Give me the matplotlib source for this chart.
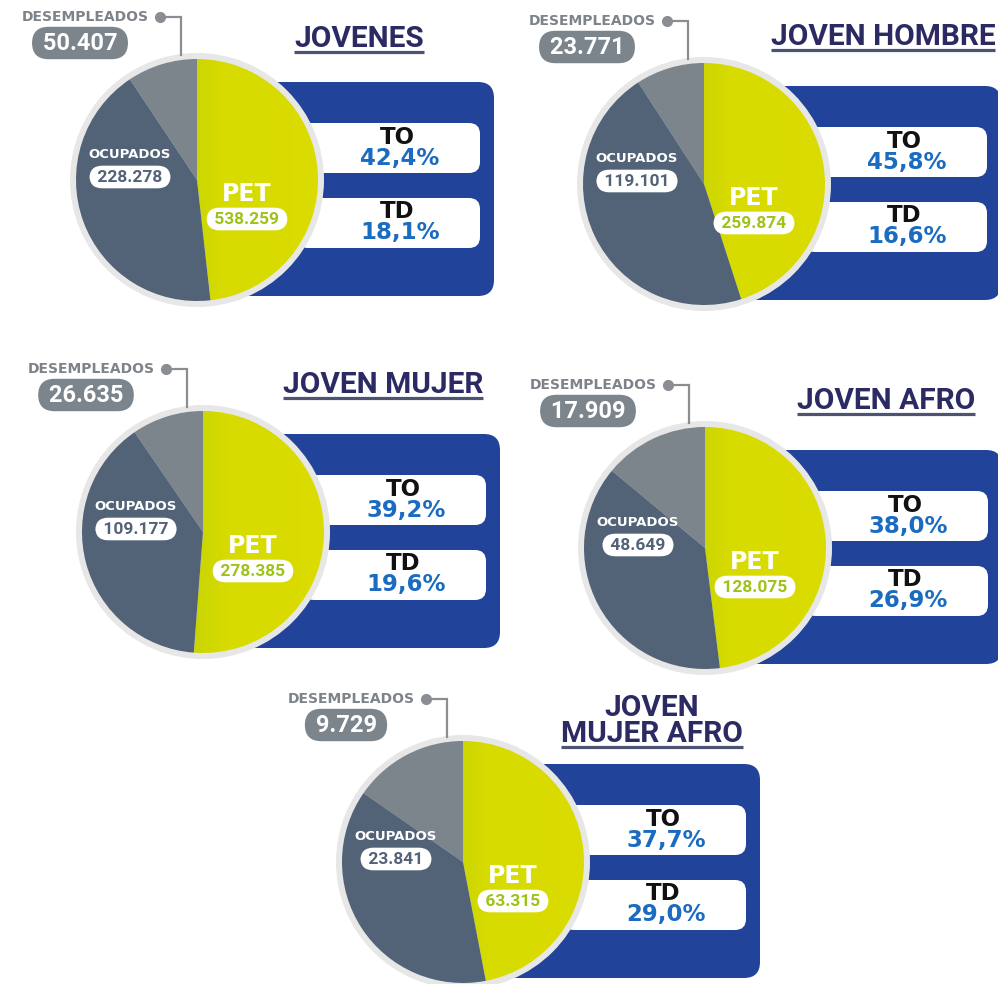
import numpy as np
import matplotlib.pyplot as plt
from matplotlib.patches import FancyBboxPatch, Circle
from matplotlib.colors import LinearSegmentedColormap

# Datos por grupo
titulos = ['JOVENES', 'JOVEN HOMBRE', 'JOVEN MUJER', 'JOVEN AFRO', 'JOVEN\nMUJER AFRO']
pet = [538259, 259874, 278385, 128075, 63315]
ocupados = [228278, 119101, 109177, 48649, 23841]
desempleados = [50407, 23771, 26635, 17909, 9729]
tasa_ocupacion = [42.4, 45.8, 39.2, 38.0, 37.7]
tasa_desempleo = [18.1, 16.6, 19.6, 26.9, 29.0]

# Posiciones en pixeles (centro de cada torta y del titulo)
centros = [(197, 180), (704, 184), (203, 532), (705, 548), (463, 862)]
pos_titulo = [(359, 52), (883, 50), (383, 398), (886, 414), (652, 747)]
R = 121

AZUL = '#21449a'
PIZARRA = '#526277'
GRIS = '#7c848c'
GRIS_TXT = '#7e8389'
ANILLO = '#e7e7e7'
TITULO = '#2b2a63'
CELESTE = '#1b6cc0'
VERDE_TXT = '#9fc21a'

ANCHA = ['DejaVu Sans']
ESTRECHA = ['Roboto', 'DejaVu Sans']

cmap_pet = LinearSegmentedColormap.from_list(
    'pet', [(0, '#8cbd1f'), (0.3, '#b6cd08'), (0.6, '#d7db00'), (1, '#dbdc00')])
gradiente = np.linspace(0, 1, 256).reshape(1, -1)


def miles(v):
    return f'{v:,}'.replace(',', '.')


def pct(v):
    return f'{v:.1f}%'.replace('.', ',')


fig = plt.figure(figsize=(9.98, 9.84), dpi=100)
ax = fig.add_axes([0, 0, 1, 1])

titulo_txt = []
for i in range(len(titulos)):
    cx, cy = centros[i]

    # recuadro azul con las tasas
    ax.add_patch(FancyBboxPatch((cx, cy - 98), 297, 214,
                                boxstyle='round,pad=0,rounding_size=16',
                                fc=AZUL, ec='none', zorder=1))
    for y0, sigla, valor in [(cy - 57, 'TO', tasa_ocupacion[i]),
                             (cy + 18, 'TD', tasa_desempleo[i])]:
        ax.add_patch(FancyBboxPatch((cx + 100, y0), 183, 50,
                                    boxstyle='round,pad=0,rounding_size=11',
                                    fc='white', ec='none', zorder=2))
        ax.text(cx + 200, y0 + 14, sigla, ha='center', va='center', color='#111111',
                fontsize=16.5, fontweight='bold', family=ANCHA, zorder=3)
        ax.text(cx + 203, y0 + 35, pct(valor), ha='center', va='center', color=CELESTE,
                fontsize=16.5, fontweight='bold', family=ANCHA, zorder=3)

    # torta: desempleados y ocupados sobre el total de la PET
    ax.add_patch(Circle((cx, cy), R + 6, fc=ANILLO, ec='none', zorder=3))
    resto = pet[i] - ocupados[i] - desempleados[i]
    cunas, _ = ax.pie([desempleados[i], ocupados[i], resto],
                      colors=[GRIS, PIZARRA, 'none'], startangle=-90, counterclock=False,
                      center=(cx, cy), radius=R, frame=True,
                      wedgeprops=dict(linewidth=0, zorder=4))
    img = ax.imshow(gradiente, cmap=cmap_pet, extent=(cx - R, cx + R, cy + R, cy - R),
                    interpolation='bilinear', zorder=3.5)
    img.set_clip_path(cunas[2])

    # etiquetas dentro de la torta
    ax.text(cx + 50, cy + 14, 'PET', ha='center', va='center', color='white',
            fontsize=17, fontweight='bold', family=ANCHA, zorder=6)
    ax.text(cx + 50, cy + 39, ' ' + miles(pet[i]) + ' ', ha='center', va='center',
            color=VERDE_TXT, fontsize=12.5, fontweight='bold', family=ESTRECHA, zorder=6,
            bbox=dict(boxstyle='round,pad=0.22,rounding_size=0.75', fc='white', ec='none'))
    ax.text(cx - 67, cy - 25, 'OCUPADOS', ha='center', va='center', color='white',
            fontsize=9.5, fontweight='bold', family=ANCHA, zorder=6)
    ax.text(cx - 67, cy - 3, ' ' + miles(ocupados[i]) + ' ', ha='center', va='center',
            color=PIZARRA, fontsize=12.5, fontweight='bold', family=ESTRECHA, zorder=6,
            bbox=dict(boxstyle='round,pad=0.22,rounding_size=0.75', fc='white', ec='none'))

    # etiqueta de desempleados con su guia
    ax.text(cx - 48, cy - 163, 'DESEMPLEADOS', ha='right', va='center', color=GRIS_TXT,
            fontsize=10, fontweight='bold', family=ANCHA, zorder=6)
    ax.plot([cx - 37, cx - 16, cx - 16], [cy - 163, cy - 163, cy - R - 4],
            color='#8a8e93', lw=1.6, zorder=5, solid_joinstyle='miter')
    ax.plot([cx - 37], [cy - 163], 'o', color='#8a8e93', ms=7, zorder=5)
    ax.text(cx - 117, cy - 137, ' ' + miles(desempleados[i]) + ' ', ha='center', va='center',
            color='white', fontsize=17, fontweight='bold', family=ESTRECHA, zorder=6,
            bbox=dict(boxstyle='round,pad=0.2,rounding_size=0.7', fc=GRIS, ec='none'))

    tx, ty = pos_titulo[i]
    t = ax.text(tx, ty + 1, titulos[i], ha='center', va='bottom', color=TITULO,
                fontsize=21.5, fontweight='bold', family=ESTRECHA, linespacing=0.92, zorder=6)
    titulo_txt.append((t, ty))

ax.set_xlim(0, 998)
ax.set_ylim(984, 0)
ax.set_aspect('auto')
ax.axis('off')

# subrayado de los titulos, del ancho del texto
fig.canvas.draw()
for t, ty in titulo_txt:
    bb = t.get_window_extent()
    ax.plot([bb.x0, bb.x1], [ty, ty], color='#4c5472', lw=2.3, solid_capstyle='butt', zorder=6)

fig.savefig('out.png', dpi=100)
